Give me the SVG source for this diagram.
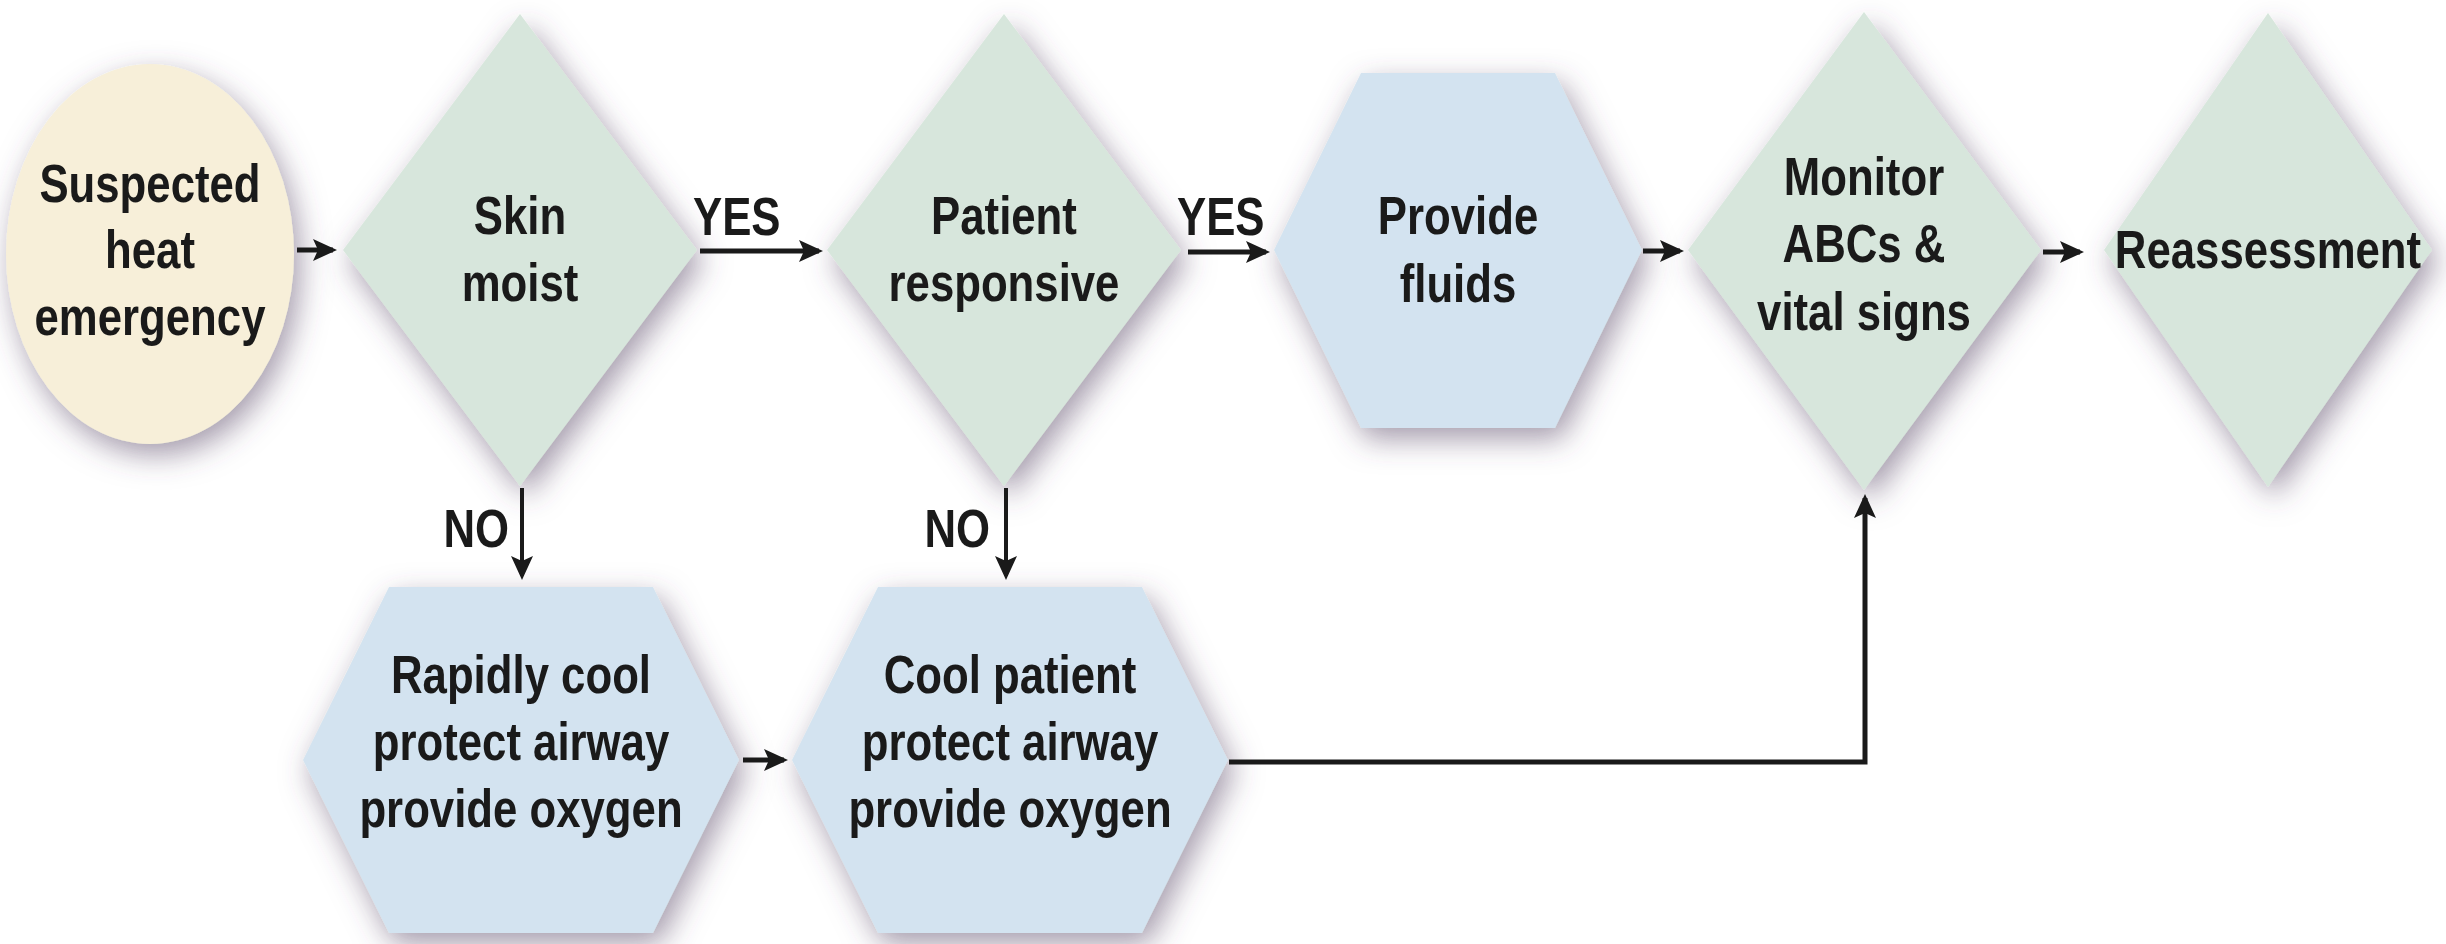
<svg xmlns="http://www.w3.org/2000/svg" width="2446" height="944" viewBox="0 0 2446 944">
<style>
.t{font-family:"Liberation Sans",Arial,Helvetica,sans-serif;font-weight:bold;font-size:54px;fill:#1a1a1a;text-anchor:middle}
.ls{text-anchor:start}
.le{text-anchor:end}
.dia{fill:#d7e6dc}
.hex{fill:#d3e3f0}
.ell{fill:#f7efd9}
.c{fill:none;stroke:#1a1a1a;stroke-width:5;marker-end:url(#ah)}
.cn{fill:none;stroke:#1a1a1a;stroke-width:4;marker-end:url(#ah)}
</style>
<defs>
<filter id="sh" x="-25%" y="-25%" width="150%" height="150%">
<feDropShadow dx="6" dy="11" stdDeviation="15" flood-color="#5a4a66" flood-opacity="0.55"/>
</filter>
<marker id="ah" viewBox="0 0 24 22" refX="20" refY="11" markerWidth="24" markerHeight="22" markerUnits="userSpaceOnUse" orient="auto">
<path d="M0,0 L24,11 L0,22 L5,11 Z" fill="#1a1a1a"/>
</marker>
</defs>
<rect width="2446" height="944" fill="#ffffff"/>

<g id="n1">
<ellipse class="ell" cx="150" cy="254" rx="144" ry="190" filter="url(#sh)"/>
<g transform="translate(150,0) scale(0.81,1)">
<text class="t" x="0" y="202">Suspected</text>
<text class="t" x="0" y="268">heat</text>
<text class="t" x="0" y="335">emergency</text>
</g>
</g>

<g id="n2">
<polygon class="dia" points="520,14 697,250 520,486 343,250" filter="url(#sh)"/>
<g transform="translate(520,0) scale(0.81,1)">
<text class="t" x="0" y="234">Skin</text>
<text class="t" x="0" y="301">moist</text>
</g>
</g>

<g id="n3">
<polygon class="dia" points="1004,14 1181,250 1004,486 827,250" filter="url(#sh)"/>
<g transform="translate(1004,0) scale(0.81,1)">
<text class="t" x="0" y="234">Patient</text>
<text class="t" x="0" y="301">responsive</text>
</g>
</g>

<g id="n4">
<polygon class="hex" points="1361,73 1555,73 1642,250 1555,428 1361,428 1274,250" filter="url(#sh)"/>
<g transform="translate(1458,0) scale(0.81,1)">
<text class="t" x="0" y="234">Provide</text>
<text class="t" x="0" y="302">fluids</text>
</g>
</g>

<g id="n5">
<polygon class="dia" points="1864,12 2041,250 1864,490 1688,250" filter="url(#sh)"/>
<g transform="translate(1864,0) scale(0.81,1)">
<text class="t" x="0" y="195">Monitor</text>
<text class="t" x="0" y="262">ABCs &amp;</text>
<text class="t" x="0" y="330">vital signs</text>
</g>
</g>

<g id="n6">
<polygon class="dia" points="2268,13 2432,250 2268,487 2104,250" filter="url(#sh)"/>
<g transform="translate(2268,0) scale(0.81,1)">
<text class="t" x="0" y="268">Reassessment</text>
</g>
</g>

<g id="n7">
<polygon class="hex" points="389,587 653,587 739,760 653,933 389,933 303,760" filter="url(#sh)"/>
<g transform="translate(521,0) scale(0.81,1)">
<text class="t" x="0" y="693">Rapidly cool</text>
<text class="t" x="0" y="760">protect airway</text>
<text class="t" x="0" y="827">provide oxygen</text>
</g>
</g>

<g id="n8">
<polygon class="hex" points="878,587 1142,587 1228,760 1142,933 878,933 792,760" filter="url(#sh)"/>
<g transform="translate(1010,0) scale(0.81,1)">
<text class="t" x="0" y="693">Cool patient</text>
<text class="t" x="0" y="760">protect airway</text>
<text class="t" x="0" y="827">provide oxygen</text>
</g>
</g>

<g id="connectors">
<line class="c" x1="297" y1="250" x2="333" y2="250"/>
<line class="c" x1="700" y1="251" x2="819" y2="251"/>
<line class="c" x1="1188" y1="252" x2="1266" y2="252"/>
<line class="c" x1="1643" y1="251" x2="1680" y2="251"/>
<line class="c" x1="2043" y1="252" x2="2080" y2="252"/>
<line class="cn" x1="522" y1="488" x2="522" y2="576"/>
<line class="cn" x1="1006" y1="488" x2="1006" y2="576"/>
<line class="c" x1="743" y1="760" x2="784" y2="760"/>
<path class="c" d="M1229,762 H1865 V498"/>
<g transform="translate(693,0) scale(0.81,1)"><text class="t ls" x="0" y="235">YES</text></g>
<g transform="translate(1177,0) scale(0.81,1)"><text class="t ls" x="0" y="235">YES</text></g>
<g transform="translate(509,0) scale(0.81,1)"><text class="t le" x="0" y="547">NO</text></g>
<g transform="translate(990,0) scale(0.81,1)"><text class="t le" x="0" y="547">NO</text></g>
</g>
</svg>
